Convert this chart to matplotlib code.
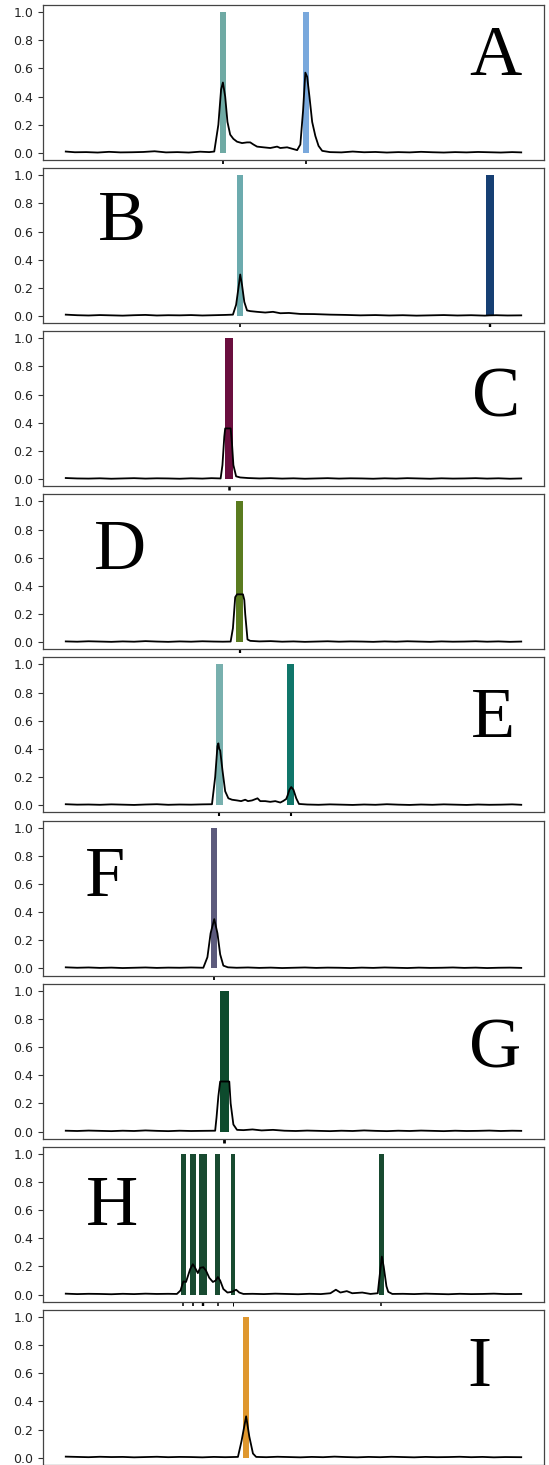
import matplotlib
matplotlib.use('Agg')
import matplotlib.pyplot as plt

# spectra traces, x in channel units (0..1000), y normalised intensity
a_x = [0, 20, 45, 70, 95, 120, 145, 170, 195, 220, 245, 270, 295, 315, 326, 335, 341, 345, 350, 355,
       361, 368, 376, 387, 398, 405, 412, 420, 434, 449, 464, 471, 486, 497, 508, 515, 521, 526, 530, 535,
       541, 548, 555, 563, 580, 605, 630, 655, 680, 705, 730, 755, 780, 805, 830, 855, 880, 905, 930, 955,
       980, 1000]
a_y = [0.01, 0.005, 0.006, 0.003, 0.008, 0.004, 0.005, 0.007, 0.012, 0.004, 0.006, 0.003, 0.009, 0.006, 0.01,
       0.2, 0.45, 0.50, 0.40, 0.22, 0.13, 0.10, 0.08, 0.07, 0.075, 0.075, 0.06, 0.045, 0.04, 0.035,
       0.045, 0.035, 0.04, 0.03, 0.02, 0.06, 0.3, 0.57, 0.54, 0.40, 0.22, 0.12, 0.05, 0.015, 0.006,
       0.004, 0.01, 0.005, 0.007, 0.003, 0.006, 0.004, 0.008, 0.005, 0.003, 0.006, 0.004, 0.007, 0.005, 0.003,
       0.006, 0.004]

b_x = [0, 25, 50, 75, 100, 125, 150, 175, 200, 225, 250, 275, 300, 325, 350, 367, 374, 380, 383, 387,
       392, 398, 405, 420, 438, 455, 471, 490, 515, 545, 581, 615, 647, 680, 710, 740, 770, 800, 830, 860,
       890, 920, 931, 945, 970, 1000]
b_y = [0.01, 0.006, 0.004, 0.007, 0.005, 0.003, 0.006, 0.008, 0.004, 0.006, 0.005, 0.007, 0.004, 0.006, 0.008,
       0.01, 0.08, 0.22, 0.295, 0.22, 0.10, 0.04, 0.035, 0.03, 0.025, 0.03, 0.02, 0.022, 0.015, 0.014,
       0.01, 0.008, 0.005, 0.007, 0.004, 0.006, 0.003, 0.005, 0.007, 0.004, 0.006, 0.003, 0.005, 0.006, 0.004,
       0.005]

c_x = [0, 25, 50, 75, 100, 125, 150, 175, 200, 225, 250, 275, 300, 320, 340, 344, 348, 350, 362, 365,
       368, 374, 383, 400, 425, 450, 475, 500, 525, 550, 575, 600, 625, 650, 675, 700, 725, 750, 775, 800,
       825, 850, 875, 900, 925, 950, 975, 1000]
c_y = [0.008, 0.005, 0.004, 0.006, 0.003, 0.005, 0.007, 0.004, 0.006, 0.005, 0.003, 0.006, 0.004, 0.007, 0.005,
       0.1, 0.3, 0.36, 0.36, 0.25, 0.1, 0.02, 0.012, 0.008, 0.005, 0.007, 0.004, 0.006, 0.003, 0.005,
       0.007, 0.004, 0.006, 0.005, 0.003, 0.006, 0.004, 0.007, 0.005, 0.003, 0.006, 0.004, 0.005, 0.007, 0.004,
       0.006, 0.003, 0.005]

d_x = [0, 25, 50, 75, 100, 125, 150, 175, 200, 225, 250, 275, 300, 325, 345, 362, 367, 372, 376, 389,
       392, 394, 399, 405, 425, 450, 475, 500, 525, 550, 575, 600, 625, 650, 675, 700, 725, 750, 775, 800,
       825, 850, 875, 900, 925, 950, 975, 1000]
d_y = [0.006, 0.004, 0.007, 0.005, 0.003, 0.006, 0.004, 0.008, 0.005, 0.003, 0.006, 0.004, 0.007, 0.005, 0.004,
       0.005, 0.1, 0.32, 0.34, 0.34, 0.3, 0.2, 0.02, 0.01, 0.006, 0.008, 0.004, 0.006, 0.003, 0.005,
       0.007, 0.004, 0.006, 0.005, 0.003, 0.006, 0.004, 0.007, 0.005, 0.003, 0.006, 0.004, 0.005, 0.007, 0.004,
       0.006, 0.003, 0.005]

e_x = [0, 25, 50, 75, 100, 125, 150, 175, 200, 225, 250, 275, 300, 321, 328, 333, 335, 337, 339, 344,
       350, 357, 365, 376, 385, 394, 400, 409, 421, 427, 438, 449, 460, 471, 477, 484, 487, 491, 495, 500,
       506, 512, 530, 555, 580, 605, 630, 655, 680, 705, 730, 755, 780, 805, 830, 855, 880, 905, 930, 955,
       980, 1000]
e_y = [0.008, 0.005, 0.006, 0.004, 0.007, 0.005, 0.003, 0.006, 0.008, 0.004, 0.006, 0.005, 0.007, 0.008, 0.2,
       0.42, 0.44, 0.40, 0.39, 0.25, 0.1, 0.05, 0.04, 0.035, 0.03, 0.04, 0.03, 0.035, 0.05, 0.03,
       0.03, 0.025, 0.03, 0.02, 0.03, 0.045, 0.07, 0.11, 0.13, 0.11, 0.05, 0.01, 0.006, 0.004, 0.007,
       0.005, 0.003, 0.006, 0.004, 0.008, 0.005, 0.003, 0.006, 0.004, 0.007, 0.005, 0.003, 0.006, 0.004, 0.005,
       0.007, 0.004]

f_x = [0, 25, 50, 75, 100, 125, 150, 175, 200, 225, 250, 275, 302, 311, 318, 326, 333, 339, 346, 356,
       375, 400, 425, 450, 475, 500, 525, 550, 575, 600, 625, 650, 675, 700, 725, 750, 775, 800, 825, 850,
       875, 900, 925, 950, 975, 1000]
f_y = [0.008, 0.005, 0.007, 0.004, 0.006, 0.003, 0.005, 0.007, 0.004, 0.006, 0.005, 0.007, 0.005, 0.08, 0.25,
       0.35, 0.25, 0.1, 0.02, 0.008, 0.005, 0.007, 0.004, 0.006, 0.003, 0.005, 0.007, 0.004, 0.006, 0.005,
       0.003, 0.006, 0.004, 0.007, 0.005, 0.003, 0.006, 0.004, 0.005, 0.007, 0.004, 0.006, 0.003, 0.005, 0.006,
       0.004]

g_x = [0, 25, 50, 75, 100, 125, 150, 175, 200, 225, 250, 275, 300, 328, 331, 335, 339, 359, 362, 368,
       376, 390, 410, 430, 455, 480, 505, 530, 555, 580, 605, 630, 655, 680, 705, 730, 755, 780, 805, 830,
       855, 880, 905, 930, 955, 980, 1000]
g_y = [0.006, 0.004, 0.007, 0.005, 0.003, 0.006, 0.004, 0.008, 0.005, 0.003, 0.006, 0.004, 0.005, 0.006, 0.1,
       0.25, 0.355, 0.355, 0.2, 0.05, 0.012, 0.01, 0.015, 0.008, 0.012, 0.006, 0.004, 0.007, 0.005, 0.003,
       0.006, 0.004, 0.008, 0.005, 0.003, 0.006, 0.004, 0.007, 0.005, 0.003, 0.006, 0.004, 0.005, 0.007, 0.004,
       0.006, 0.005]

h_x = [0, 25, 50, 75, 100, 125, 150, 175, 200, 225, 244, 252, 258, 264, 273, 279, 284, 290, 295, 302,
       308, 315, 323, 329, 334, 339, 346, 355, 365, 374, 381, 390, 410, 435, 460, 485, 510, 535, 560, 581,
       593, 603, 617, 629, 651, 669, 685, 688, 694, 698, 704, 708, 717, 740, 765, 790, 815, 840, 865, 890,
       915, 940, 965, 1000]
h_y = [0.007, 0.004, 0.006, 0.005, 0.003, 0.006, 0.004, 0.007, 0.005, 0.006, 0.005, 0.03, 0.094, 0.09, 0.18,
       0.216, 0.19, 0.153, 0.19, 0.195, 0.17, 0.12, 0.09, 0.1, 0.125, 0.1, 0.04, 0.015, 0.02, 0.035,
       0.015, 0.005, 0.006, 0.004, 0.007, 0.005, 0.003, 0.006, 0.004, 0.01, 0.035, 0.015, 0.025, 0.01, 0.015,
       0.005, 0.01, 0.1, 0.27, 0.2, 0.06, 0.02, 0.005, 0.006, 0.004, 0.007, 0.005, 0.003, 0.006, 0.004,
       0.005, 0.007, 0.004, 0.005]

i_x = [0, 25, 50, 75, 100, 125, 150, 175, 200, 225, 250, 275, 300, 325, 350, 378, 386, 396, 403, 411,
       418, 440, 465, 490, 515, 540, 565, 590, 615, 640, 665, 690, 715, 740, 765, 790, 815, 840, 865, 890,
       915, 940, 965, 1000]
i_y = [0.008, 0.006, 0.004, 0.007, 0.005, 0.006, 0.003, 0.005, 0.007, 0.004, 0.006, 0.005, 0.003, 0.006, 0.004,
       0.006, 0.12, 0.294, 0.15, 0.03, 0.006, 0.004, 0.007, 0.005, 0.003, 0.006, 0.004, 0.008, 0.005, 0.003,
       0.006, 0.004, 0.007, 0.005, 0.003, 0.006, 0.004, 0.005, 0.007, 0.004, 0.006, 0.003, 0.005, 0.004]

# marker bars (reference positions) per panel
a_bars = [346, 528]
b_bars = [383, 931]
c_bars = [358]
d_bars = [382]
e_bars = [337, 494]
f_bars = [326]
g_bars = [348]
h_bars = [258, 279, 302, 334, 367, 693]
i_bars = [395]

a_w = [13, 12.5]
b_w = [12, 17]
c_w = [18]
d_w = [16]
e_w = [15, 15]
f_w = [13]
g_w = [20]
h_w = [11, 12, 17, 11, 7, 11]
i_w = [13]

a_col = ['#6FAAA4', '#79A8DC']
b_col = ['#6CABAE', '#163F73']
c_col = ['#6A0E3E']
d_col = ['#5A7B1F']
e_col = ['#78B0AE', '#10766A']
f_col = ['#5C5A7C']
g_col = ['#0D4B2D']
h_col = ['#184A30'] * 6
i_col = ['#DF972E']

labels = ['A', 'B', 'C', 'D', 'E', 'F', 'G', 'H', 'I']

panels = [
    (a_x, a_y, a_bars, a_w, a_col),
    (b_x, b_y, b_bars, b_w, b_col),
    (c_x, c_y, c_bars, c_w, c_col),
    (d_x, d_y, d_bars, d_w, d_col),
    (e_x, e_y, e_bars, e_w, e_col),
    (f_x, f_y, f_bars, f_w, f_col),
    (g_x, g_y, g_bars, g_w, g_col),
    (h_x, h_y, h_bars, h_w, h_col),
    (i_x, i_y, i_bars, i_w, i_col),
]

# where the big letter sits in each panel (axes fraction)
label_pos = [(0.902, 0.548), (0.158, 0.535), (0.904, 0.452), (0.154, 0.516), (0.898, 0.484),
             (0.124, 0.51), (0.902, 0.458), (0.138, 0.497), (0.872, 0.51)]

W, H = 549, 1465
fig = plt.figure(figsize=(W / 100, H / 100), dpi=100)

for k, (xs, ys, bars, widths, cols) in enumerate(panels):
    top = 5 + k * 163.1
    ax = fig.add_axes([43 / W, 1 - (top + 155) / H, 501 / W, 155 / H])
    ax.bar(bars, [1.0] * len(bars), width=widths, color=cols, zorder=2)
    ax.plot(xs, ys, color='black', lw=1.3, zorder=3)
    ax.set_xlim(-50, 1050)
    ax.set_ylim(-0.05, 1.05)
    ax.set_yticks([0.0, 0.2, 0.4, 0.6, 0.8, 1.0])
    ax.tick_params(axis='y', labelsize=9, length=3.5, width=0.8, colors='#333333', labelcolor='#222222')
    ax.set_xticks(bars)
    ax.set_xticklabels([])
    ax.tick_params(axis='x', length=3, color='black')
    for t, w in zip(ax.xaxis.get_major_ticks(), widths):
        t.tick1line.set_markeredgewidth(w * 0.1)
    for s in ax.spines.values():
        s.set_color('#444444')
        s.set_linewidth(0.9)
    lx, ly = label_pos[k]
    ax.text(lx, ly, labels[k], transform=ax.transAxes, ha='center', va='baseline',
            fontsize=52, family=['Liberation Serif', 'DejaVu Serif'], color='black')

fig.savefig('out.png', dpi=100)
